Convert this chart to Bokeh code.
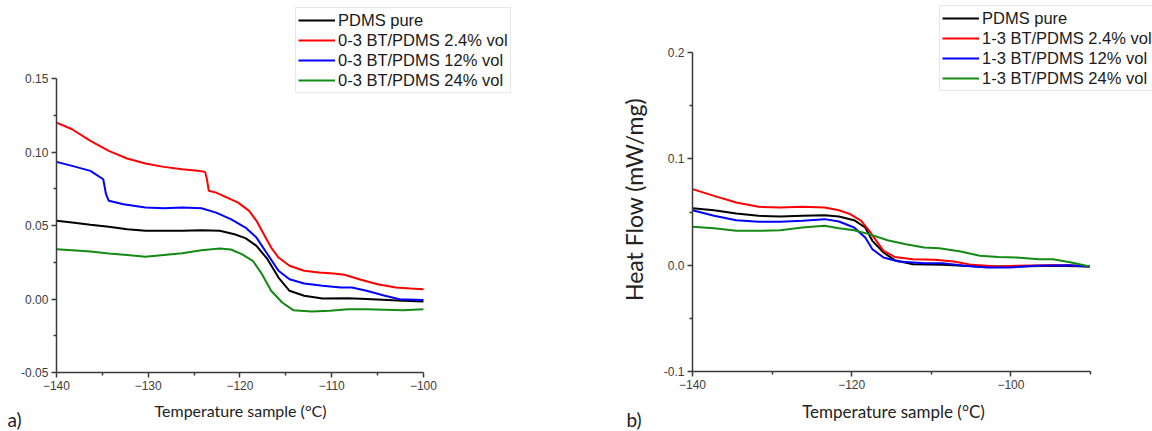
import math
from bokeh.plotting import figure
from bokeh.models import Range1d, Legend, LegendItem, Label, FixedTicker, NumeralTickFormatter
from bokeh.layouts import row
from bokeh.embed import file_html
from bokeh.resources import INLINE

# ---------------- data (panel a: 0-3 composites) ----------------
a_black_x = [-140, -138.3, -136.3, -134.3, -132.3, -130.3, -128.3, -126.3, -124.2, -122.2, -120.6, -119.4, -118.2, -117.0, -115.8, -114.6, -113.0, -111.0, -108.2, -106.2, -102.2, -100]
a_black_y = [0.0532, 0.0520, 0.0505, 0.0491, 0.0475, 0.0464, 0.0464, 0.0464, 0.0468, 0.0464, 0.0441, 0.0414, 0.0362, 0.0271, 0.0146, 0.0056, 0.0022, 0.0004, 0.0006, 0.0, -0.0012, -0.0017]

a_red_x = [-140, -138.3, -136.3, -134.3, -132.3, -130.3, -128.3, -126.3, -124.6, -123.8, -123.6, -123.4, -122.6, -121.4, -120.2, -119.0, -118.2, -117.4, -116.6, -115.8, -114.6, -113.0, -111.4, -109.8, -108.6, -107.0, -105.0, -103.0, -101.4, -100]
a_red_y = [0.120, 0.1155, 0.1076, 0.1008, 0.0956, 0.0922, 0.0899, 0.0883, 0.0872, 0.0865, 0.0815, 0.0736, 0.0724, 0.0690, 0.0656, 0.0600, 0.0532, 0.0441, 0.0350, 0.0282, 0.0226, 0.0192, 0.0180, 0.0174, 0.0165, 0.0135, 0.0101, 0.0078, 0.0071, 0.0067]

a_blue_x = [-140, -138.3, -136.3, -134.9, -134.6, -134.3, -132.7, -130.3, -128.3, -126.3, -124.2, -122.6, -121.0, -119.4, -118.2, -117.0, -115.8, -114.6, -113.0, -111.0, -109.0, -107.8, -106.2, -104.2, -102.6, -100]
a_blue_y = [0.0933, 0.0906, 0.0872, 0.0815, 0.0713, 0.0668, 0.0645, 0.0623, 0.0618, 0.0622, 0.0618, 0.0588, 0.0543, 0.0486, 0.0418, 0.0305, 0.0192, 0.0135, 0.0105, 0.0090, 0.0078, 0.0078, 0.0056, 0.0022, -0.0001, -0.0006]

a_green_x = [-140, -138.3, -136.3, -134.3, -132.3, -130.3, -128.3, -126.3, -124.2, -122.2, -121.0, -119.8, -118.6, -117.6, -116.6, -115.4, -114.2, -112.2, -110.2, -108.2, -106.2, -102.2, -100]
a_green_y = [0.0339, 0.0332, 0.0323, 0.0310, 0.0300, 0.0287, 0.0300, 0.0312, 0.0332, 0.0343, 0.0337, 0.0305, 0.0260, 0.0169, 0.0056, -0.0024, -0.0076, -0.0085, -0.0080, -0.0069, -0.0069, -0.0076, -0.0069]

a_labels = ["PDMS pure", "0-3 BT/PDMS 2.4% vol", "0-3 BT/PDMS 12% vol", "0-3 BT/PDMS 24% vol"]
a_xticks = [-140, -130, -120, -110, -100]
a_xminor = [-135, -125, -115, -105]
a_yticks = [-0.05, 0.0, 0.05, 0.10, 0.15]
a_yminor = [-0.025, 0.025, 0.075, 0.125]

# ---------------- data (panel b: 1-3 composites) ----------------
b_black_x = [-140, -137.3, -134.5, -131.7, -129.0, -126.2, -123.4, -121.6, -119.7, -118.3, -117.4, -116.0, -114.6, -112.3, -108.6, -104.0, -99.3, -94.7, -90.1]
b_black_y = [0.0536, 0.0517, 0.0486, 0.0464, 0.0458, 0.0464, 0.0470, 0.0458, 0.0423, 0.0354, 0.0229, 0.0119, 0.0047, 0.0009, 0.0003, -0.0013, -0.0013, -0.0006, -0.0013]

b_red_x = [-140, -137.3, -134.5, -131.7, -129.0, -126.2, -123.4, -121.6, -120.2, -118.8, -117.8, -116.9, -116.0, -114.6, -112.3, -109.5, -107.2, -104.9, -101.6, -99.3, -95.6, -92.4, -90.1]
b_red_y = [0.0715, 0.0652, 0.0589, 0.0549, 0.0542, 0.0549, 0.0542, 0.0517, 0.0480, 0.0417, 0.0323, 0.0229, 0.0135, 0.0078, 0.0056, 0.0050, 0.0034, 0.0003, -0.0013, -0.0006, 0.0, 0.0, -0.0013]

b_blue_x = [-140, -137.3, -134.5, -131.7, -129.0, -126.2, -123.4, -121.6, -119.7, -118.3, -117.4, -116.0, -114.1, -110.9, -108.6, -105.8, -103.0, -100.2, -97.0, -92.8, -90.1]
b_blue_y = [0.0517, 0.0464, 0.0423, 0.0408, 0.0408, 0.0417, 0.0433, 0.0411, 0.0354, 0.0260, 0.0150, 0.0072, 0.0034, 0.0019, 0.0019, -0.0006, -0.0022, -0.0022, -0.0006, 0.0, -0.0013]

b_green_x = [-140, -137.3, -134.5, -131.7, -129.0, -126.2, -123.4, -121.6, -119.7, -117.8, -115.5, -113.2, -110.9, -109.0, -106.3, -103.9, -101.6, -99.3, -96.5, -94.7, -92.4, -90.1]
b_green_y = [0.0361, 0.0348, 0.0323, 0.0323, 0.0329, 0.0354, 0.0370, 0.0348, 0.0329, 0.0292, 0.0235, 0.0197, 0.0166, 0.0160, 0.0129, 0.0088, 0.0078, 0.0072, 0.0056, 0.0056, 0.0025, -0.0013]

b_labels = ["PDMS pure", "1-3 BT/PDMS 2.4% vol", "1-3 BT/PDMS 12% vol", "1-3 BT/PDMS 24% vol"]
b_xticks = [-140, -120, -100]
b_xminor = [-130, -110, -90]
b_yticks = [-0.1, 0.0, 0.1, 0.2]
b_yminor = [-0.05, 0.05, 0.15]

x_title = "Temperature sample (°C)"
y_title = "Heat Flow (mW/mg)"

colors = ["#000000", "#ff0000", "#0000ff", "#138a13"]

AX_COLOR = "#3a3a3a"
TICK_FONT = "Liberation Sans"
TITLE_FONT = "Lato"
W, H = 576, 431


def style_axes(p):
    for ax in (p.xaxis[0], p.yaxis[0]):
        ax.axis_line_color = AX_COLOR
        ax.axis_line_width = 1.5
        ax.major_tick_line_color = AX_COLOR
        ax.major_tick_line_width = 1.5
        ax.minor_tick_line_color = AX_COLOR
        ax.minor_tick_line_width = 1.5
        ax.major_tick_in = 0
        ax.major_tick_out = 5
        ax.minor_tick_in = 0
        ax.minor_tick_out = 3
        ax.major_label_text_font = TICK_FONT
        ax.major_label_text_font_size = "12px"
        ax.major_label_text_color = "#3c3c3c"
        ax.major_label_standoff = 3


def make_panel(xs, ys, labels, xr, yr, xb, yb, xticks, xminor, yticks, yminor, yfmt,
               legend_loc, tag_pos, tag_text, xtitle_pos, xtitle_size, ylabel_pos=None):
    p = figure(width=W, height=H, output_backend="svg", toolbar_location=None,
               x_range=Range1d(*xr), y_range=Range1d(*yr), min_border=0)
    p.outline_line_color = None
    p.xgrid.visible = False
    p.ygrid.visible = False
    p.background_fill_color = "white"
    renderers = []
    for x, y, c in zip(xs, ys, colors):
        renderers.append(p.line(x, y, line_color=c, line_width=2))
    style_axes(p)
    # axes drawn at fixed data positions inside the full-canvas frame
    p.xaxis.fixed_location = yb[0]
    p.yaxis.fixed_location = xb[0]
    p.xaxis.bounds = xb
    p.yaxis.bounds = yb
    p.xaxis.ticker = FixedTicker(ticks=xticks, minor_ticks=xminor)
    p.yaxis.ticker = FixedTicker(ticks=yticks, minor_ticks=yminor)
    p.yaxis.formatter = NumeralTickFormatter(format=yfmt)

    items = [LegendItem(label=l, renderers=[r]) for l, r in zip(labels, renderers)]
    leg = Legend(items=items, location=legend_loc, margin=0, padding=2, spacing=0,
                 glyph_width=37, glyph_height=20, label_height=20, label_standoff=3,
                 label_text_font="Liberation Sans", label_text_font_size="16.5px",
                 label_text_color="#1a1a1a",
                 border_line_color="#cfcfcf", border_line_width=1.5,
                 background_fill_color="white", background_fill_alpha=1.0)
    p.add_layout(leg, "center")

    p.add_layout(Label(x=xtitle_pos[0], y=xtitle_pos[1], x_units="screen", y_units="screen",
                       text=x_title, text_font=TITLE_FONT, text_font_size=xtitle_size,
                       text_color="#222222", text_align="center", text_baseline="middle"))
    if ylabel_pos is not None:
        p.add_layout(Label(x=ylabel_pos[0], y=ylabel_pos[1], x_units="screen", y_units="screen",
                           text=y_title, text_font=TITLE_FONT, text_font_size="23px",
                           text_color="#222222", text_align="center", text_baseline="middle",
                           angle=math.pi / 2))
    p.add_layout(Label(x=tag_pos[0], y=tag_pos[1], x_units="screen", y_units="screen",
                       text=tag_text, text_font=TITLE_FONT, text_font_size="19px",
                       text_color="#222222", text_baseline="bottom"))
    return p


pa = make_panel([a_black_x, a_red_x, a_blue_x, a_green_x],
                [a_black_y, a_red_y, a_blue_y, a_green_y], a_labels,
                (-146.10, -83.32), (-0.09014, 0.2031), (-140, -100), (-0.05, 0.15),
                a_xticks, a_xminor, a_yticks, a_yminor, "0.00",
                (295, 338), (7, 1), "a)", (240, 21), "16px")

pb = make_panel([b_black_x, b_red_x, b_blue_x, b_green_x],
                [b_black_y, b_red_y, b_blue_y, b_green_y], b_labels,
                (-154.573, -82.21), (-0.1564, 0.2489), (-140, -90), (-0.1, 0.2),
                b_xticks, b_xminor, b_yticks, b_yminor, "0.0",
                (363, 340), (50, 1), "b)", (317, 20), "17px", (57, 232))

layout = row(pa, pb)
open("out.html", "w").write(file_html(layout, INLINE))
